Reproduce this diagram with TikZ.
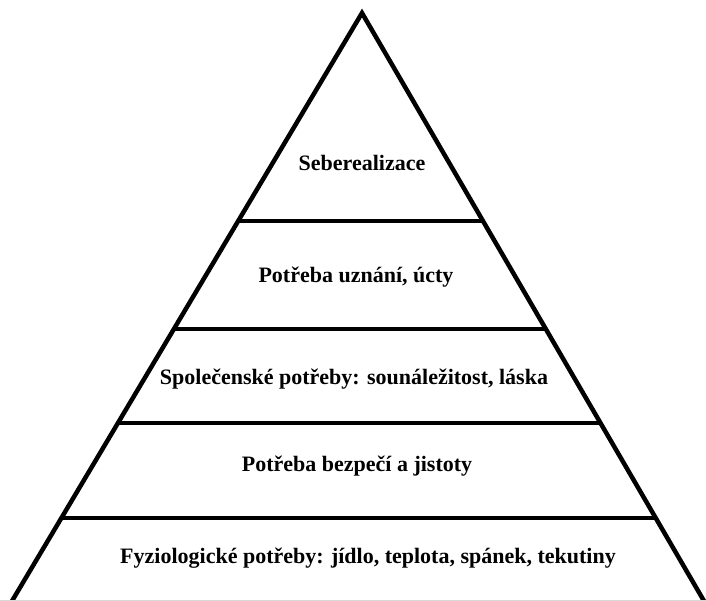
\documentclass[tikz,border=0pt]{standalone}
\usepackage{fontspec}
\setmainfont{Liberation Serif}
\usetikzlibrary{calc}
\begin{document}
\begin{tikzpicture}[x=1pt,y=-1pt,
  edge/.style={line width=4.5pt,line cap=butt},
  tier/.style={line width=4.2pt},
  lbl/.style={font=\fontsize{22}{24}\selectfont\bfseries,anchor=center,inner sep=0pt}]
\useasboundingbox (0,0) rectangle (706,601);
\fill[white] (0,0) rectangle (706,601);
\coordinate (A) at (362,13);
\coordinate (BL) at (12,601);
\coordinate (BR) at (704,601);
\draw[edge,line join=miter] (BL) -- (A) -- (BR);
\foreach \y/\n in {221/a,329/b,423/c,518/d}{
  \pgfmathsetmacro{\t}{(\y-13)/588}
  \coordinate (L\n) at ($(A)!\t!(BL)$);
  \coordinate (R\n) at ($(A)!\t!(BR)$);
  \draw[tier] (L\n) -- (R\n);
}
\draw[gray!30,line width=1pt] (0,600.5) -- (706,600.5);
\node[lbl] (t1) at (362,163) {Seberealizace};
\node[lbl] (t2) at (356,277) {Potřeba uznání, úcty};
\node[lbl] (t3) at (354,379) {Společenské potřeby: sounáležitost, láska};
\node[lbl] (t4) at (357,466) {Potřeba bezpečí a jistoty};
\node[lbl] (t5) at (368,558) {Fyziologické potřeby: jídlo, teplota, spánek, tekutiny};
\end{tikzpicture}
\end{document}
